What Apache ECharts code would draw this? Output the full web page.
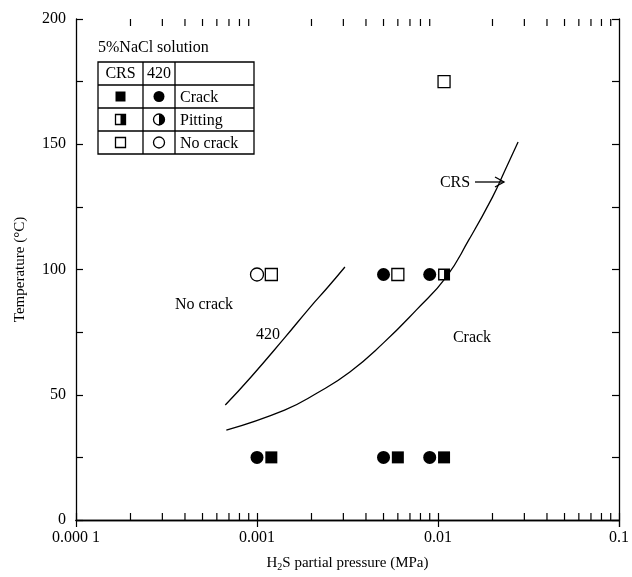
<!DOCTYPE html>
<html>
<head>
<meta charset="utf-8">
<script src="https://cdn.jsdelivr.net/npm/echarts@6/dist/echarts.min.js"></script>
<style>
  html, body { margin: 0; padding: 0; background: #fff; }
  #chart { width: 632px; height: 577px; }
</style>
</head>
<body>
<div id="chart"></div>
<script>
// axis ticks
const xTickValues = [0.0001, 0.001, 0.01, 0.1]
const xTickLabels = ['0.000 1', '0.001', '0.01', '0.1']
const xMinorTicks = [
  0.0002, 0.0003, 0.0004, 0.0005, 0.0006, 0.0007, 0.0008, 0.0009,
  0.002, 0.003, 0.004, 0.005, 0.006, 0.007, 0.008, 0.009,
  0.02, 0.03, 0.04, 0.05, 0.06, 0.07, 0.08, 0.09
]

// CRS steel (squares)
const crsCrackX = [0.0012, 0.006, 0.0108]
const crsCrackT = [25, 25, 25]
const crsPittingX = [0.0108]
const crsPittingT = [98]
const crsNoCrackX = [0.0012, 0.006, 0.0108]
const crsNoCrackT = [98, 98, 175]

// 420 steel (circles)
const s420CrackX = [0.001, 0.005, 0.009, 0.005, 0.009]
const s420CrackT = [25, 25, 25, 98, 98]
const s420NoCrackX = [0.001]
const s420NoCrackT = [98]

// boundary curves
const crsCurveX = [0.000677, 0.00142, 0.00215, 0.00326, 0.0050, 0.00758, 0.0111, 0.0148, 0.0200, 0.0235, 0.0277]
const crsCurveT = [35.9, 43.9, 50.7, 59.1, 70.7, 83.8, 97.0, 111.8, 128.9, 139.7, 150.9]
const s420CurveX = [0.000668, 0.000927, 0.00142, 0.00197, 0.00244, 0.00306]
const s420CurveT = [45.9, 57.1, 72.7, 85.0, 92.6, 101.0]

const FONT = 'Liberation Serif'
const BLACK = '#000'

const halfSquare = 'path://M0,0 L12,0 L12,12 L0,12 Z M1.4,1.4 L1.4,10.6 L6,10.6 L6,1.4 Z'

const zip = (xs, ys) => xs.map((x, i) => [x, ys[i]])

const chart = echarts.init(document.getElementById('chart'))

const axisLine = { show: true, lineStyle: { color: BLACK, width: 1.3 } }
const tick = { show: true, inside: true, length: 7, lineStyle: { color: BLACK, width: 1.2 } }

function pointSeries(name, xs, ts, symbol, size, fill) {
  return {
    name,
    type: 'scatter',
    data: zip(xs, ts),
    symbol,
    symbolSize: size,
    clip: false,
    silent: true,
    itemStyle: fill
      ? { color: BLACK, opacity: 1 }
      : { color: '#fff', borderColor: BLACK, borderWidth: 1.3, opacity: 1 }
  }
}

function minorTickSeries(t, offset) {
  return {
    type: 'scatter',
    data: xMinorTicks.map(x => [x, t]),
    symbol: 'rect',
    symbolSize: [1.2, 7],
    symbolOffset: [0, offset],
    clip: false,
    silent: true,
    itemStyle: { color: BLACK, opacity: 1 }
  }
}

function curveSeries(xs, ts) {
  return {
    type: 'line',
    data: zip(xs, ts),
    smooth: 0.5,
    showSymbol: false,
    silent: true,
    lineStyle: { color: BLACK, width: 1.3 }
  }
}

// legend table
const tx = 98, ty = 62, rowH = 23
const c1 = 143, c2 = 175, tr = 254
const legendGraphic = [
  { type: 'text', left: tx, top: 40, style: { text: '5%NaCl solution', font: '16px ' + FONT, fill: BLACK } },
  { type: 'rect', shape: { x: tx, y: ty, width: tr - tx, height: rowH * 4 }, style: { fill: '#fff', stroke: BLACK, lineWidth: 1.3 } },
  { type: 'line', shape: { x1: c1, y1: ty, x2: c1, y2: ty + rowH * 4 }, style: { stroke: BLACK, lineWidth: 1.3 } },
  { type: 'line', shape: { x1: c2, y1: ty, x2: c2, y2: ty + rowH * 4 }, style: { stroke: BLACK, lineWidth: 1.3 } },
  { type: 'text', x: (tx + c1) / 2, y: ty + rowH / 2, style: { text: 'CRS', font: '16px ' + FONT, fill: BLACK, align: 'center', verticalAlign: 'middle' } },
  { type: 'text', x: (c1 + c2) / 2, y: ty + rowH / 2, style: { text: '420', font: '16px ' + FONT, fill: BLACK, align: 'center', verticalAlign: 'middle' } }
]
const legendRows = ['Crack', 'Pitting', 'No crack']
legendRows.forEach((label, i) => {
  const yTop = ty + rowH * (i + 1)
  const cy = yTop + rowH / 2
  const sx = (tx + c1) / 2, cx = (c1 + c2) / 2
  legendGraphic.push({ type: 'line', shape: { x1: tx, y1: yTop, x2: tr, y2: yTop }, style: { stroke: BLACK, lineWidth: 1.3 } })
  legendGraphic.push({ type: 'text', x: c2 + 5, y: cy + 1, style: { text: label, font: '16px ' + FONT, fill: BLACK, verticalAlign: 'middle' } })
  if (i === 0) {
    legendGraphic.push({ type: 'rect', shape: { x: sx - 5, y: cy - 5, width: 10, height: 10 }, style: { fill: BLACK } })
    legendGraphic.push({ type: 'circle', shape: { cx, cy, r: 5.5 }, style: { fill: BLACK } })
  } else if (i === 1) {
    legendGraphic.push({ type: 'rect', shape: { x: sx - 5, y: cy - 5, width: 10, height: 10 }, style: { fill: '#fff', stroke: BLACK, lineWidth: 1.3 } })
    legendGraphic.push({ type: 'rect', shape: { x: sx, y: cy - 5, width: 5, height: 10 }, style: { fill: BLACK } })
    legendGraphic.push({ type: 'circle', shape: { cx, cy, r: 5.5 }, style: { fill: '#fff', stroke: BLACK, lineWidth: 1.3 } })
    legendGraphic.push({ type: 'sector', shape: { cx, cy, r: 5.5, startAngle: -Math.PI / 2, endAngle: Math.PI / 2, clockwise: true }, style: { fill: BLACK } })
  } else {
    legendGraphic.push({ type: 'rect', shape: { x: sx - 5, y: cy - 5, width: 10, height: 10 }, style: { fill: '#fff', stroke: BLACK, lineWidth: 1.3 } })
    legendGraphic.push({ type: 'circle', shape: { cx, cy, r: 5.5 }, style: { fill: '#fff', stroke: BLACK, lineWidth: 1.3 } })
  }
})

// annotations
const annotations = [
  { type: 'text', x: 204, y: 305, style: { text: 'No crack', font: '16px ' + FONT, fill: BLACK, align: 'center', verticalAlign: 'middle' } },
  { type: 'text', x: 268, y: 335, style: { text: '420', font: '16px ' + FONT, fill: BLACK, align: 'center', verticalAlign: 'middle' } },
  { type: 'text', x: 472, y: 338, style: { text: 'Crack', font: '16px ' + FONT, fill: BLACK, align: 'center', verticalAlign: 'middle' } },
  { type: 'text', x: 455, y: 183, style: { text: 'CRS', font: '16px ' + FONT, fill: BLACK, align: 'center', verticalAlign: 'middle' } },
  { type: 'line', shape: { x1: 475, y1: 182, x2: 504, y2: 182 }, style: { stroke: BLACK, lineWidth: 1.3 } },
  { type: 'polyline', shape: { points: [[495, 177], [504, 182], [495, 187]] }, style: { stroke: BLACK, lineWidth: 1.3, fill: null } }
]

const option = {
  animation: false,
  backgroundColor: '#fff',
  grid: { left: 76, right: 7, top: 19, bottom: 57 },
  xAxis: [
    {
      type: 'log',
      min: 0.0001,
      max: 0.1,
      logBase: 10,
      name: '{a|H}{s|2}{a|S partial pressure (MPa)}',
      nameLocation: 'middle',
      nameGap: 34,
      nameTextStyle: {
        rich: {
          a: { fontFamily: FONT, fontSize: 15, color: BLACK, lineHeight: 18 },
          s: { fontFamily: FONT, fontSize: 10, color: BLACK, lineHeight: 12, verticalAlign: 'bottom' }
        }
      },
      axisLine,
      axisTick: tick,
      splitLine: { show: false },
      axisLabel: {
        fontFamily: FONT,
        fontSize: 16,
        color: BLACK,
        margin: 10,
        formatter: v => {
          const i = xTickValues.findIndex(t => Math.abs(Math.log10(t) - Math.log10(v)) < 1e-6)
          return i >= 0 ? xTickLabels[i] : ''
        }
      }
    },
    {
      type: 'log',
      position: 'top',
      min: 0.0001,
      max: 0.1,
      logBase: 10,
      axisLine,
      axisTick: tick,
      axisLabel: { show: false },
      splitLine: { show: false }
    }
  ],
  yAxis: [
    {
      type: 'value',
      min: 0,
      max: 200,
      interval: 50,
      name: 'Temperature (°C)',
      nameLocation: 'middle',
      nameGap: 48,
      nameTextStyle: { fontFamily: FONT, fontSize: 15, color: BLACK },
      axisLine,
      axisTick: tick,
      minorTick: { show: true, splitNumber: 2, length: 7, lineStyle: { color: BLACK, width: 1.2 } },
      splitLine: { show: false },
      axisLabel: { fontFamily: FONT, fontSize: 16, color: BLACK, margin: 10 }
    },
    {
      type: 'value',
      position: 'right',
      min: 0,
      max: 200,
      interval: 50,
      axisLine,
      axisTick: tick,
      minorTick: { show: true, splitNumber: 2, length: 7, lineStyle: { color: BLACK, width: 1.2 } },
      splitLine: { show: false },
      axisLabel: { show: false }
    }
  ],
  series: [
    curveSeries(crsCurveX, crsCurveT),
    curveSeries(s420CurveX, s420CurveT),
    minorTickSeries(0, -3.5),
    minorTickSeries(200, 3.5),
    pointSeries('CRS crack', crsCrackX, crsCrackT, 'rect', 12, true),
    pointSeries('CRS pitting', crsPittingX, crsPittingT, halfSquare, 12, true),
    pointSeries('CRS no crack', crsNoCrackX, crsNoCrackT, 'rect', 12, false),
    pointSeries('420 crack', s420CrackX, s420CrackT, 'circle', 13, true),
    pointSeries('420 no crack', s420NoCrackX, s420NoCrackT, 'circle', 13, false)
  ],
  graphic: legendGraphic.concat(annotations)
}

chart.setOption(option)
</script>
</body>
</html>
